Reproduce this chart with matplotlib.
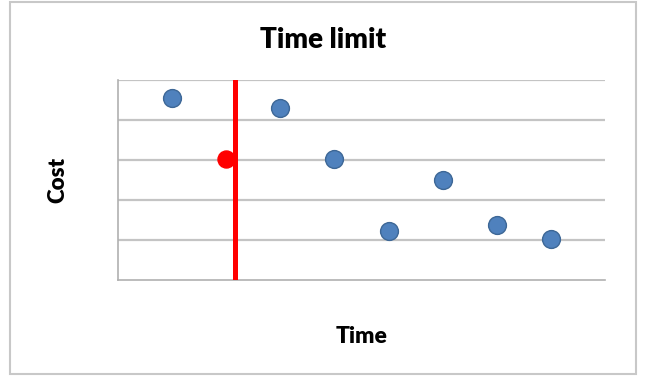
import matplotlib.pyplot as plt
from matplotlib.patches import Rectangle

# Cost of each candidate solution over time
times = [1, 3, 4, 5, 6, 7, 8]
costs = [4.55, 4.3, 3.02, 1.22, 2.5, 1.37, 1.02]

# Best solution found before the limit
best_time = [2]
best_cost = [3.02]

time_limit = 2.17

plt.rcParams['font.family'] = ['Lato', 'DejaVu Sans']

fig = plt.figure(figsize=(6.57, 3.78), dpi=100)
ax = fig.add_axes([118 / 657, 1 - 280 / 378, (605 - 118) / 657, 200 / 378])

# Grey frame round the whole chart
fig.patches.append(Rectangle((10 / 657, 4 / 378), 626 / 657, 372 / 378,
                             transform=fig.transFigure, fill=False,
                             edgecolor='#c8c8c8', linewidth=1.5))

ax.set_xlim(0, 9)
ax.set_ylim(0, 5)
ax.set_yticks([1, 2, 3, 4, 5])
ax.set_xticks([])
ax.tick_params(axis='y', length=0, labelleft=False)
ax.yaxis.grid(True, color='#c4c4c4', linewidth=1.6)
ax.set_axisbelow(True)

for side in ['top', 'right']:
    ax.spines[side].set_visible(False)
for side in ['left', 'bottom']:
    ax.spines[side].set_color('#b0b0b0')
    ax.spines[side].set_linewidth(1.2)

ax.axvline(time_limit, color='#ff0000', linewidth=3.6, zorder=3)
ax.scatter(times, costs, s=165, color='#4f81bd', edgecolors='#3d6796',
           linewidths=1.0, zorder=4, clip_on=False)
ax.scatter(best_time, best_cost, s=150, color='#ff0000', zorder=4)

fig.text(323 / 657, 1 - 40 / 378, 'Time limit', fontsize=20, fontweight='heavy',
         ha='center', va='center')
ax.set_xlabel('Time', fontsize=16.5, fontweight='heavy', labelpad=33)
ax.set_ylabel('Cost', fontsize=16, fontweight='heavy', labelpad=36)

fig.savefig('out.png', dpi=100, facecolor='white')
